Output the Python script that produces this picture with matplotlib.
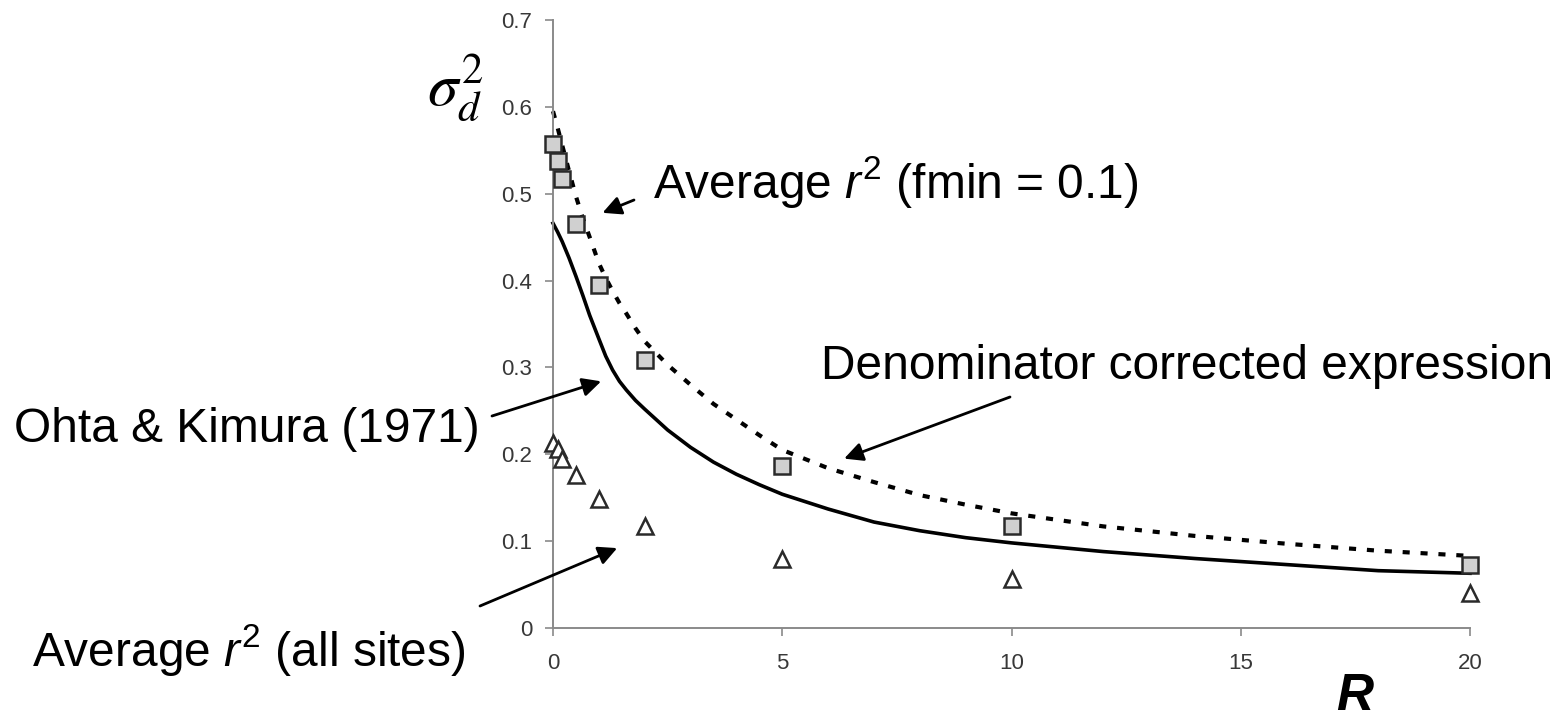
import matplotlib
matplotlib.use("Agg")
import matplotlib.pyplot as plt

# ---- data ----
R_pts = [0, 0.1, 0.2, 0.5, 1, 2, 5, 10, 20]
avg_fmin = [0.557, 0.538, 0.517, 0.465, 0.395, 0.308, 0.187, 0.118, 0.073]
avg_all = [0.213, 0.206, 0.195, 0.176, 0.148, 0.117, 0.080, 0.056, 0.040]

R_line = [0, 0.1, 0.2, 0.35, 0.5, 0.65, 0.8, 1, 1.15, 1.3, 1.45, 1.6, 1.8, 2, 2.5, 3, 3.5, 4,
          4.5, 5, 6, 7, 8, 9, 10, 12, 14, 16, 18, 20]
ohta_kimura = [0.466, 0.456, 0.445, 0.426, 0.405, 0.383, 0.36, 0.333, 0.313, 0.297, 0.284,
               0.274, 0.262, 0.252, 0.228, 0.208, 0.191, 0.177, 0.165, 0.154, 0.137, 0.122,
               0.112, 0.104, 0.098, 0.088, 0.080, 0.073, 0.066, 0.063]
denom_corr = [0.595, 0.576, 0.556, 0.526, 0.497, 0.472, 0.45, 0.42, 0.403, 0.388, 0.374,
              0.362, 0.345, 0.33, 0.303, 0.28, 0.258, 0.24, 0.222, 0.205, 0.184, 0.168,
              0.153, 0.142, 0.132, 0.117, 0.106, 0.097, 0.089, 0.083]

x_ticks = [0, 5, 10, 15, 20]
y_ticks = [0, 0.1, 0.2, 0.3, 0.4, 0.5, 0.6, 0.7]
y_ticklabels = ["0", "0.1", "0.2", "0.3", "0.4", "0.5", "0.6", "0.7"]

W, H = 1558, 719
plt.rcParams["mathtext.fontset"] = "custom"
plt.rcParams["mathtext.it"] = "Liberation Sans:italic"
plt.rcParams["mathtext.rm"] = "Liberation Sans"

fig = plt.figure(figsize=(W / 100, H / 100), dpi=100)
fig.patch.set_facecolor("white")

def fx(px):
    return px / W

def fy(py):
    return 1 - py / H

ax = fig.add_axes([fx(553), fy(628), fx(1470) - fx(553), fy(20) - fy(628)])
ax.set_xlim(0, 20)
ax.set_ylim(0, 0.7)
for s in ["top", "right"]:
    ax.spines[s].set_visible(False)
for s in ["left", "bottom"]:
    ax.spines[s].set_color("#8a8a8a")
    ax.spines[s].set_linewidth(1.4)

ax.set_xticks(x_ticks)
ax.set_xticklabels([str(v) for v in x_ticks])
ax.set_yticks(y_ticks)
ax.set_yticklabels(y_ticklabels)
ax.tick_params(axis="both", direction="out", length=6, width=1.2, color="#8a8a8a",
               labelsize=16, labelcolor="#383838")
ax.tick_params(axis="x", pad=12)
ax.tick_params(axis="y", pad=9)
for lab in ax.get_xticklabels() + ax.get_yticklabels():
    lab.set_fontfamily("Liberation Sans")

ax.plot(R_line, denom_corr, color="black", lw=3.0, linestyle=(0, (1.7, 2.6)),
        dash_capstyle="butt", zorder=2, clip_on=False)
ax.plot(R_line, ohta_kimura, color="black", lw=2.6, zorder=2, clip_on=False,
        solid_joinstyle="round")
ax.plot(R_pts, avg_fmin, linestyle="none", marker="s", markersize=11,
        markerfacecolor="#d0d0d0", markeredgecolor="#2a2a2a", markeredgewidth=1.8,
        zorder=3, clip_on=False)
ax.plot(R_pts, avg_all, linestyle="none", marker="^", markersize=12,
        markerfacecolor="white", markeredgecolor="#2a2a2a", markeredgewidth=1.8,
        zorder=3, clip_on=False)

tfont = dict(family="Liberation Sans", fontsize=34.5, color="black")

fig.text(fx(653), fy(198), r"Average $\mathit{r}^{2}$ (fmin = 0.1)", va="baseline", ha="left", **tfont)
fig.text(fx(821), fy(379), "Denominator corrected expression", va="baseline", ha="left", **tfont)
fig.text(fx(14), fy(442), "Ohta & Kimura (1971)", va="baseline", ha="left", **tfont)
fig.text(fx(32), fy(666), r"Average $\mathit{r}^{2}$ (all sites)", va="baseline", ha="left", **tfont)

fig.text(fx(455), fy(88), r"$\sigma_d^2$", ha="center", va="center", fontsize=44,
         math_fontfamily="stix")
fig.text(fx(1355), fy(710), "R", ha="center", va="baseline", fontsize=37,
         fontweight="bold", fontstyle="italic", family="Liberation Sans")

arrow = dict(arrowstyle="-|>", color="black", lw=2, mutation_scale=28, shrinkA=0, shrinkB=0)
ax.annotate("", xy=(1.08, 0.478), xytext=(fx(634), fy(200)), textcoords="figure fraction",
            xycoords="data", arrowprops=arrow)
ax.annotate("", xy=(1.05, 0.284), xytext=(fx(492), fy(416)), textcoords="figure fraction",
            xycoords="data", arrowprops=arrow)
ax.annotate("", xy=(6.35, 0.195), xytext=(fx(1010), fy(397)), textcoords="figure fraction",
            xycoords="data", arrowprops=arrow)
ax.annotate("", xy=(1.4, 0.092), xytext=(fx(480), fy(606)), textcoords="figure fraction",
            xycoords="data", arrowprops=arrow)

fig.savefig("out.png", dpi=100, facecolor="white")
